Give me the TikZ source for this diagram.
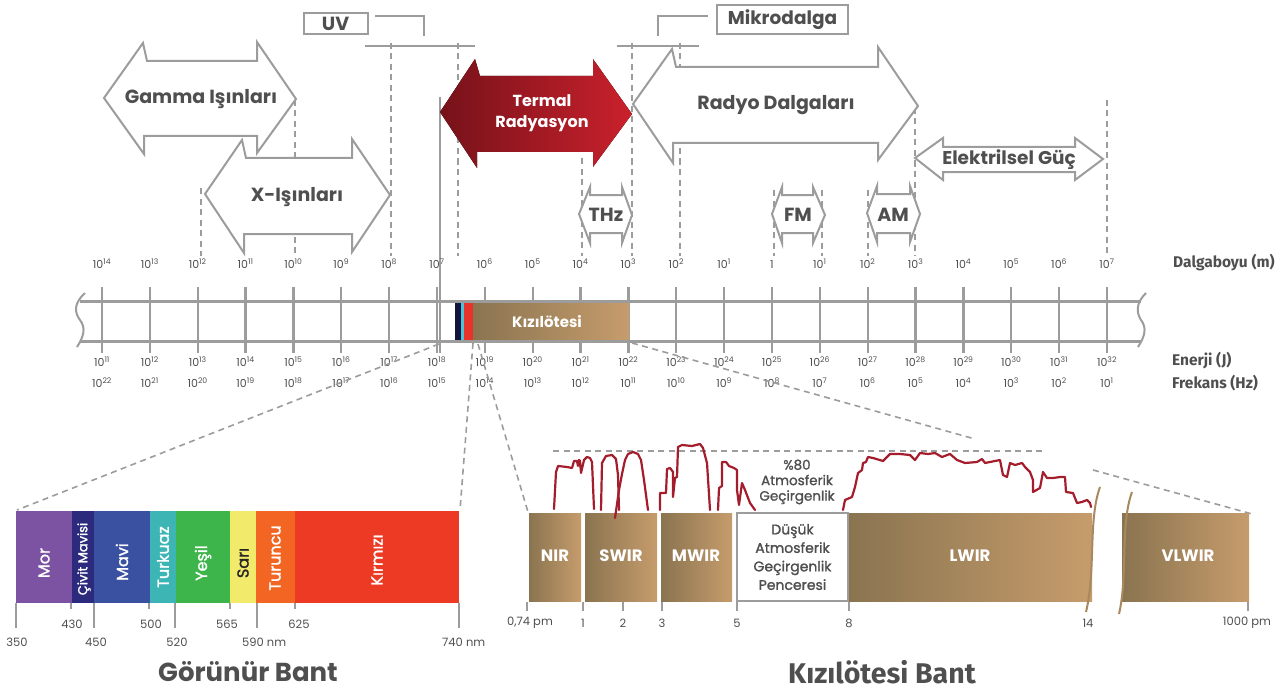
\documentclass[tikz,border=0pt]{standalone}
\usepackage{fontspec}
\setmainfont{Fira Sans}
\newfontfamily\geo{Poppins}
\newfontfamily\geomed[FakeBold=1.4]{Poppins}
\definecolor{linegray}{HTML}{9C9C9C}
\definecolor{txtgray}{HTML}{4F4F4F}
\definecolor{curvered}{HTML}{A31D2C}
\definecolor{irdark}{HTML}{8A7450}
\definecolor{irlight}{HTML}{C69C6C}
\definecolor{irline}{HTML}{A8895E}
\definecolor{thdark}{HTML}{76121A}
\definecolor{thlight}{HTML}{CA212C}
\definecolor{cMor}{HTML}{7B53A2}
\definecolor{cCivit}{HTML}{2B2A7C}
\definecolor{cMavi}{HTML}{3A50A0}
\definecolor{cTurkuaz}{HTML}{3DB5B5}
\definecolor{cYesil}{HTML}{3EB54B}
\definecolor{cSari}{HTML}{F2EA6B}
\definecolor{cTuruncu}{HTML}{F26522}
\definecolor{cKirmizi}{HTML}{EC3A24}
\definecolor{cNavy}{HTML}{13133F}
\definecolor{cCyan}{HTML}{4EC3D6}
\definecolor{cRed}{HTML}{E8332A}
\begin{document}
\begin{tikzpicture}[x=1pt,y=-1pt,
  outl/.style={draw=linegray,line width=2pt,fill=white,line join=miter,miter limit=20},
  gline/.style={draw=linegray,line width=2pt},
  dsh/.style={draw=linegray,line width=1.6pt,dash pattern=on 6pt off 4.5pt},
  bigl/.style={font=\geo\bfseries\fontsize{19}{22}\selectfont,text=txtgray,inner sep=0pt},
  smallarr/.style={font=\geo\bfseries\fontsize{19}{22}\selectfont,text=txtgray,inner sep=0pt},
  tlbl/.style={font=\geo\fontsize{11}{12}\selectfont,text=txtgray,inner sep=0pt},
  axl/.style={font=\bfseries\fontsize{15.5}{18}\selectfont,text=txtgray,inner sep=0pt,anchor=west},
  rulertick/.style={draw=linegray,line width=2.4pt},
  rulerline/.style={draw=linegray,line width=3pt},
  vis/.style={font=\geomed\fontsize{16}{18}\selectfont,text=white,rotate=90,inner sep=0pt},
  vtick/.style={draw=linegray,line width=2pt},
  vnum/.style={font=\geo\fontsize{11.5}{13}\selectfont,text=txtgray,inner sep=0pt},
  irseg/.style={left color=irdark,right color=irlight,draw=none},
  irl/.style={font=\geo\bfseries\fontsize{16.5}{18}\selectfont,text=white,inner sep=0pt},
  trans/.style={draw=curvered,line width=2.2pt,line join=round,line cap=round},
  irnum/.style={font=\geo\fontsize{11.5}{13}\selectfont,text=txtgray,inner sep=0pt},
  boxtxt/.style={font=\geomed\fontsize{14}{18.5}\selectfont,text=txtgray,align=center,inner sep=0pt},
  bandtitle/.style={font=\bfseries\fontsize{28.5}{32}\selectfont,text=txtgray,inner sep=0pt},
]
\useasboundingbox (0,0) rectangle (1285,690);

% ---------- region boundaries (dashed) ----------
\foreach \xx/\ya in {201/188, 295/100, 391/43, 458/43, 582/158, 632/43, 680/43, 774/190, 822/190, 868/190, 915/108, 1107/100}{
  \draw[dsh] (\xx,\ya) -- (\xx,256);
}
% UV and Mikrodalga brackets
\draw[gline] (365,46) -- (475,46);
\draw[gline] (617,46) -- (699,46);
\draw[gline] (375,16) -- (424,16) -- (424,36);
\draw[gline] (708,16) -- (658,16) -- (658,36);
\node[draw=linegray,line width=2pt,minimum width=64pt,minimum height=21pt,inner sep=0pt,
      font=\geo\bfseries\fontsize{19}{20}\selectfont,text=txtgray] (uv) at (335.5,23.5) {UV};
\node[draw=linegray,line width=2pt,minimum width=131pt,minimum height=29pt,inner sep=0pt,
      font=\geo\bfseries\fontsize{18.5}{20}\selectfont,text=txtgray] (mw) at (782.5,19.5) {Mikrodalga};

% ---------- the decade ruler ----------
\foreach \i in {0,...,21}{
  \pgfmathsetmacro\xx{102+47.857*\i}
  \draw[rulertick] (\xx,287) -- (\xx,353);
}
\draw[rulertick] (440,97) -- (440,353);

% ---------- band arrows ----------
\draw[outl] (104,98) -- (143,43) -- (147,61) -- (257,61) -- (257,42) -- (296,99) -- (257,153) -- (257,136) -- (144,136) -- (144,154) -- cycle;
\node[bigl] (gamma) at (201,99) {Gamma Işınları};
\draw[outl] (205,194) -- (242,140) -- (246,158) -- (352,158) -- (352,139) -- (390,195) -- (352,252) -- (352,234) -- (244,234) -- (244,253) -- cycle;
\node[bigl] (xray) at (297,197) {X-Işınları};
\fill[left color=thdark,right color=thlight] (440,112) -- (475,59) -- (480,76) -- (593,76) -- (593,59) -- (632,114) -- (593,167) -- (593,152) -- (477,152) -- (477,168) -- cycle;
\node[font=\geo\bfseries\fontsize{16}{21.5}\selectfont,text=white,align=center,inner sep=0pt] (termal) at (542,113) {Termal\\Radyasyon};
\draw[outl] (633,104) -- (672,49) -- (676,67) -- (878,67) -- (878,47) -- (918,106) -- (878,160) -- (878,143) -- (673,143) -- (673,163) -- cycle;
\node[bigl] (radyo) at (776,105) {Radyo Dalgaları};
\draw[outl] (915,158) -- (943,138) -- (943,147) -- (1075,147) -- (1075,138) -- (1103,159) -- (1075,180) -- (1075,172) -- (943,172) -- (943,180) -- cycle;
\node[bigl,font=\geo\bfseries\fontsize{18.5}{20}\selectfont] (elek) at (1009,160) {Elektrilsel Güç};
\draw[outl] (579,214) -- (590,187) -- (590,195) -- (622,195) -- (622,187) -- (632,215) -- (622,243) -- (622,233) -- (590,233) -- (590,243) -- cycle;
\node[smallarr] (thz) at (606,215) {THz};
\draw[outl] (772,214) -- (782,187) -- (782,195) -- (813,195) -- (813,187) -- (825,215) -- (813,243) -- (813,233) -- (782,233) -- (782,243) -- cycle;
\node[smallarr] (fm) at (798,215) {FM};
\draw[outl] (867,213) -- (877,186) -- (877,194) -- (910,194) -- (910,186) -- (920,214) -- (910,242) -- (910,233) -- (877,233) -- (877,242) -- cycle;
\node[smallarr] (am) at (893,215) {AM};

% ---------- ruler band contents ----------
\fill[cNavy] (455,301) rectangle (461,341);
\fill[cCyan] (461,301) rectangle (464,341);
\fill[cRed] (464,301) rectangle (473,341);
\fill[left color=irdark,right color=irlight] (473,301) rectangle (629,341);
\node[font=\geo\bfseries\fontsize{15}{16}\selectfont,text=white,inner sep=0pt] (irband) at (547,322) {Kızılötesi};
\draw[rulerline] (80,301) -- (1141,301);
\draw[rulerline] (80,341) -- (1141,341);
\draw[linegray,line width=2pt] (85,293) .. controls (74,303) and (74,312) .. (80,320) .. controls (86,328) and (84,336) .. (77,347);
\draw[linegray,line width=2pt] (1146,293) .. controls (1136,303) and (1136,312) .. (1141,320) .. controls (1147,328) and (1145,336) .. (1138,347);

% decade labels
\foreach \i in {0,...,13}{
  \pgfmathtruncatemacro\e{14-\i}
  \pgfmathsetmacro\xx{102+47.857*\i}
  \node[tlbl] (wl\i) at (\xx,264) {10\textsuperscript{\e}};
}
\node[tlbl] (wl14) at (772,265) {1};
\foreach \i in {15,...,21}{
  \pgfmathtruncatemacro\e{\i-14}
  \pgfmathsetmacro\xx{102+47.857*\i}
  \node[tlbl] (wl\i) at (\xx,264) {10\textsuperscript{\e}};
}
\foreach \i in {0,...,21}{
  \pgfmathtruncatemacro\ee{11+\i}
  \pgfmathtruncatemacro\ff{22-\i}
  \pgfmathsetmacro\xx{102+47.857*\i}
  \node[tlbl] (en\i) at (\xx,362) {10\textsuperscript{\ee}};
  \node[tlbl] (fr\i) at (\xx,383) {10\textsuperscript{\ff}};
}
\node[axl] (dal) at (1173,263) {Dalgaboyu (m)};
\node[axl] (enj) at (1172,361) {Enerji (J)};
\node[axl] (frk) at (1172,383) {Frekans (Hz)};

% ---------- zoom connectors ----------
\coordinate (z1a) at (439,344); \coordinate (z1b) at (17,510);
\coordinate (z2a) at (473,343); \coordinate (z2b) at (460,510);
\coordinate (z3a) at (478,344); \coordinate (z3b) at (528,512);
\coordinate (z4a) at (632,343); \coordinate (z4b) at (975,439);
\coordinate (z5a) at (1093,470); \coordinate (z5b) at (1252,514);
\draw[dsh] (z1a) -- (z1b);
\draw[dsh] (z2a) -- (z2b);
\draw[dsh] (z3a) -- (z3b);
\draw[dsh] (z4a) -- (z4b);
\draw[dsh] (z5a) -- (z5b);

% ---------- visible band ----------
\fill[cMor] (16,511) rectangle (72,603);
\fill[cCivit] (72,511) rectangle (94,603);
\fill[cMavi] (94,511) rectangle (150,603);
\fill[cTurkuaz] (150,511) rectangle (176,603);
\fill[cYesil] (176,511) rectangle (230,603);
\fill[cSari] (230,511) rectangle (256,603);
\fill[cTuruncu] (256,511) rectangle (295,603);
\fill[cKirmizi] (295,511) rectangle (459,603);
\node[vis] (mor) at (44,563) {Mor};
\node[vis,font=\geomed\fontsize{13}{15}\selectfont] (civit) at (84,559) {Çivit Mavisi};
\node[vis] (mavi) at (122,562) {Mavi};
\node[vis] (turkuaz) at (163,557) {Turkuaz};
\node[vis] (yesil) at (203,563) {Yeşil};
\node[vis,text=black!85] (sari) at (243,563) {Sarı};
\node[vis] (turuncu) at (275,558) {Turuncu};
\node[vis] (kirmizi) at (377,560) {Kırmızı};
\foreach \xx in {16,94,175,257,459}{ \draw[vtick] (\xx,603) -- (\xx,628); }
\foreach \xx in {71,149,230,295}{ \draw[vtick] (\xx,603) -- (\xx,609); }
\node[vnum] (v430) at (72,624) {430};
\node[vnum] (v500) at (151,624) {500};
\node[vnum] (v565) at (227,624) {565};
\node[vnum] (v625) at (299,624) {625};
\node[vnum] (v350) at (17,642) {350};
\node[vnum] (v450) at (96,642) {450};
\node[vnum] (v520) at (177,642) {520};
\node[vnum,anchor=west] (v590) at (242,642) {590 nm};
\node[vnum,anchor=west] (v740) at (442,642) {740 nm};
\node[bandtitle,font=\geo\bfseries\fontsize{26}{30}\selectfont] (gorunur) at (248,672) {Görünür Bant};

% ---------- infrared band ----------
\fill[irseg] (529,513) rectangle (581,601);
\fill[irseg] (585,513) rectangle (657,601);
\fill[irseg] (661,513) rectangle (732,601);
\fill[irseg] (849,513) rectangle (1092,601);
\fill[irseg] (1122,513) rectangle (1249,601);
\node[draw=linegray,line width=2pt,fill=white,minimum width=111pt,minimum height=88pt,inner sep=0pt] (lowwin) at (792.5,557) {};
\node[boxtxt] (lowtxt) at (lowwin) {Düşük\\Atmosferik\\Geçirgenlik\\Penceresi};
\draw[irline,line width=2pt] (1100,487) .. controls (1088,520) and (1096,570) .. (1086,612);
\draw[irline,line width=2pt] (1132,492) .. controls (1120,525) and (1128,575) .. (1119,614);
\node[irl] (nir) at (555,556) {NIR};
\node[irl] (swir) at (621,556) {SWIR};
\node[irl] (mwir) at (696,556) {MWIR};
\node[irl] (lwir) at (970,556) {LWIR};
\node[irl] (vlwir) at (1188,556) {VLWIR};
\foreach \xx in {527,583,623,662,737,849,1248}{ \draw[vtick] (\xx,602) -- (\xx,611); }
\node[irnum] (p074) at (530,623) {0,74 pm};
\node[irnum] (p1) at (583,623) {1};
\node[irnum] (p2) at (623,623) {2};
\node[irnum] (p3) at (662,623) {3};
\node[irnum] (p5) at (737,623) {5};
\node[irnum] (p8) at (849,623) {8};
\node[irnum] (p14) at (1088,623) {14};
\node[irnum] (p1000) at (1247,623) {1000 pm};
\node[bandtitle] (kizil) at (882,672) {Kızılötesi Bant};

% atmospheric transmission
\draw[dsh] (553,451) -- (1045,451);
\node[boxtxt,font=\geomed\fontsize{13.5}{15.5}\selectfont] (pct) at (797,482) {\%80\\Atmosferik\\Geçirgenlik};
\draw[trans] (554,509) -- (556,472) -- (558,466) -- (567,467) -- (572,468) -- (574,461) -- (577,461) -- (578,466) -- (579,460) -- (580,461) -- (581,473) -- (584,460) -- (587,457) -- (590,458) -- (592,462) -- (594,509);
\draw[trans] (601,510) -- (602,463) -- (606,456) -- (612,455) -- (616,459) -- (618,475) -- (619,510);
\draw[trans] (615,518) -- (619,490) -- (622,474) -- (625,460) -- (628,454) -- (633,452) -- (638,454) -- (641,460) -- (644,480) -- (648,510);
\draw[trans] (660,510) -- (660,493) -- (666,493) -- (667,469) -- (670,468) -- (673,472) -- (673,497) -- (675,478) -- (677,477) -- (678,447) -- (682,445) -- (692,446) -- (700,444) -- (703,448) -- (707,463) -- (710,510);
\draw[trans] (718,510) -- (719,488) -- (722,486) -- (722,462) -- (726,462) -- (729,466) -- (734,468) -- (737,470) -- (737,490) -- (739,505) -- (742,483) -- (745,490) -- (750,503) -- (755,510);
\draw[trans] (843,510) -- (845,500) -- (852,497) -- (855,487) -- (858,473) -- (862,470) -- (863,463) -- (866,462) -- (868,457) -- (873,458) -- (883,461) -- (890,454) -- (900,454) -- (910,455) -- (915,460) -- (920,453) -- (928,454) -- (935,453) -- (942,457) -- (950,454) -- (957,460) -- (965,463) -- (977,462) -- (982,459) -- (985,463) -- (1000,460) -- (1003,475) -- (1007,477) -- (1010,463) -- (1015,465) -- (1022,463) -- (1025,467) -- (1030,472) -- (1033,480) -- (1033,492) -- (1040,488) -- (1043,472) -- (1047,478) -- (1053,478) -- (1060,477) -- (1065,477) -- (1066,492) -- (1073,493) -- (1077,503) -- (1082,502) -- (1087,500) -- (1090,503) -- (1091,507);
\end{tikzpicture}
\end{document}
